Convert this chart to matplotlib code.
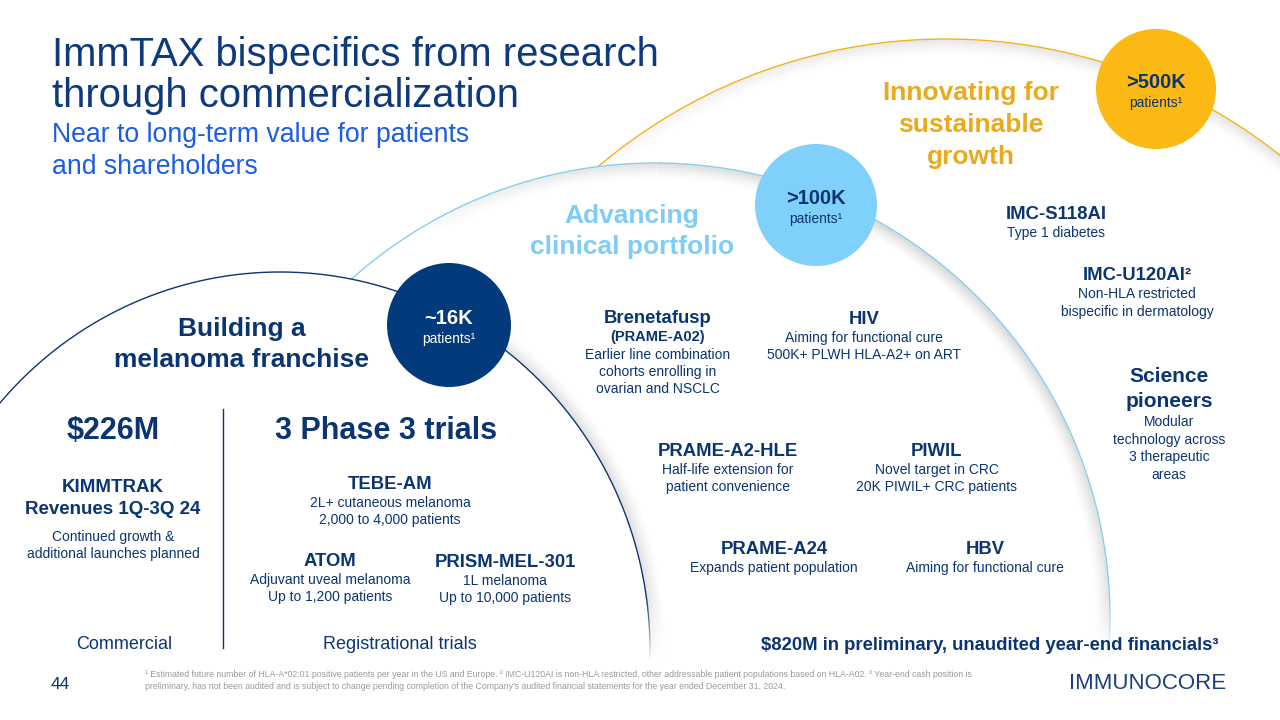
import numpy as np
import matplotlib.pyplot as plt
from matplotlib.patches import Ellipse, Circle
from matplotlib.collections import LineCollection

plt.rcParams['font.family'] = ['Liberation Sans', 'DejaVu Sans']

# ---- slide text / values ----
title_lines = ['ImmTAX bispecifics from research', 'through commercialization']
subtitle_lines = ['Near to long-term value for patients', 'and shareholders']
stage_names = [['Building a', 'melanoma franchise'],
               ['Advancing', 'clinical portfolio'],
               ['Innovating for', 'sustainable', 'growth']]
patient_counts = ['~16K', '>100K', '>500K']

revenue = '$226M'
revenue_lines = ['KIMMTRAK', 'Revenues 1Q-3Q 24']
revenue_note = ['Continued growth &', 'additional launches planned']
trials_head = '3 Phase 3 trials'
trial_names = ['TEBE-AM', 'ATOM', 'PRISM-MEL-301']
trial_notes = [['2L+ cutaneous melanoma', '2,000 to 4,000 patients'],
               ['Adjuvant uveal melanoma', 'Up to 1,200 patients'],
               ['1L melanoma', 'Up to 10,000 patients']]
bottom_labels = ['Commercial', 'Registrational trials']

clinical_names = ['Brenetafusp', 'HIV', 'PRAME-A2-HLE', 'PIWIL', 'PRAME-A24', 'HBV']
clinical_notes = [['Earlier line combination', 'cohorts enrolling in', 'ovarian and NSCLC'],
                  ['Aiming for functional cure', '500K+ PLWH HLA-A2+ on ART'],
                  ['Half-life extension for', 'patient convenience'],
                  ['Novel target in CRC', '20K PIWIL+ CRC patients'],
                  ['Expands patient population'],
                  ['Aiming for functional cure']]
cash_line = '$820M in preliminary, unaudited year-end financials³'

research_names = ['IMC-S118AI', 'IMC-U120AI²']
research_notes = [['Type 1 diabetes'], ['Non-HLA restricted', 'bispecific in dermatology']]
science_head = ['Science', 'pioneers']
science_note = ['Modular', 'technology across', '3 therapeutic', 'areas']

footnote = ['¹ Estimated future number of HLA-A*02:01 positive patients per year in the US and Europe. '
            '² IMC-U120AI is non-HLA restricted, other addressable patient populations based on HLA-A02. '
            '³ Year-end cash position is',
            'preliminary, has not been audited and is subject to change pending completion of the '
            'Company\'s audited financial statements for the year ended December 31, 2024.']
page_no = '44'
logo = 'IMMUNOCORE'

# ---- colours ----
NAVY = '#0b3572'
TITLE = '#0d3a7c'
BLUE = '#1c5ce6'
LIGHT = '#7fcdf6'
LIGHT_FILL = '#80d0fc'
GOLD = '#f2b21f'
GOLD_TXT = '#e9aa1c'
GOLD_FILL = '#fcb913'
CIRCLE_NAVY = '#023a7c'

W, H = 1280, 720
fig = plt.figure(figsize=(12.8, 7.2), dpi=100)
ax = fig.add_axes([0, 0, 1, 1])


def txt(x, yc, s, size, color=NAVY, bold=False, ha='center', z=20, **kw):
    # yc is the visual middle of capital letters, in pixels
    base = yc + 0.358 * size * 100 / 72
    ax.text(x, base, s, fontsize=size, color=color, ha=ha, va='baseline',
            fontweight='bold' if bold else 'normal', zorder=z, **kw)


def curve(cx, cy, a, b, t0, t1, n=500):
    t = np.radians(np.linspace(t0, t1, n))
    return cx + a * np.cos(t), cy - b * np.sin(t), t


def shadow(cx, cy, a, b, t0, t1, direction, z, depth=16, peak=0.09):
    tt = np.linspace(0, 1, 400)
    win = np.sin(np.pi * tt) ** 0.6
    for k in range(1, depth + 1):
        d = k * direction
        x, y, _ = curve(cx, cy, a + d, b + d, t0, t1, 400)
        pts = np.column_stack([x, y])
        segs = np.stack([pts[:-1], pts[1:]], axis=1)
        col = np.zeros((len(segs), 4))
        col[:, :3] = 0.25
        col[:, 3] = peak * (1 - k / (depth + 1)) ** 1.6 * win[:-1]
        ax.add_collection(LineCollection(segs, colors=col, linewidths=1.2, zorder=z))


# arcs: (centre x, centre y, half width, half height)
arcs = [(280, 650, 370, 378, NAVY, CIRCLE_NAVY),
        (655, 618, 455, 455, '#86cdf2', LIGHT_FILL),
        (946, 577, 538, 538, GOLD, GOLD_FILL)]
shadow_spec = [(-15, 72, 1, 0.11), (-20, 120, -1, 0.14), (5, 130, -1, 0.09)]

for i, ((cx, cy, a, b, lc, _), (t0, t1, dr, pk)) in enumerate(zip(arcs[::-1], shadow_spec[::-1])):
    z = 2 + i * 2
    ax.add_patch(Ellipse((cx, cy), 2 * a, 2 * b, facecolor='white', edgecolor='none', zorder=z))
    shadow(cx, cy, a, b, t0, t1, dr, z + 0.3, peak=pk)
    x, y, _ = curve(cx, cy, a, b, -30, 200)
    ax.plot(x, y, color=lc, lw=1.0, zorder=z + 0.6)

# fade of the arcs toward the bottom of the slide
grad = np.ones((120, 2, 4))
grad[:, :, 3] = np.linspace(0, 1, 120)[:, None]
ax.imshow(grad, extent=(0, W, 662, 598), aspect='auto', zorder=9, interpolation='bilinear')
ax.add_patch(plt.Rectangle((0, 661), W, 60, facecolor='white', edgecolor='none', zorder=9))

# patient circles
circles = [(449, 325, 62, CIRCLE_NAVY, 'white'), (816, 205, 61, LIGHT_FILL, NAVY),
           (1156, 89, 60, GOLD_FILL, NAVY)]
for (x, y, r, fc, tc), lab in zip(circles, patient_counts):
    ax.add_patch(Circle((x, y), r, facecolor=fc, edgecolor='none', zorder=12))
    txt(x, y - 8, lab, 14.5, tc, bold=True)
    txt(x, y + 13, 'patients¹', 10, tc)

# title block
txt(52, 52, title_lines[0], 28.8, TITLE, ha='left')
txt(52, 93, title_lines[1], 28.8, TITLE, ha='left')
txt(52, 132, subtitle_lines[0], 19.2, BLUE, ha='left')
txt(52, 164, subtitle_lines[1], 19.2, BLUE, ha='left')

# stage headings
for s, y in zip(stage_names[0], [327, 358]):
    txt(242, y, s, 19, NAVY, bold=True)
for s, y in zip(stage_names[1], [214, 245]):
    txt(632, y, s, 19, LIGHT, bold=True)
for s, y in zip(stage_names[2], [91, 123, 155]):
    txt(971, y, s, 19, GOLD_TXT, bold=True)

# commercial
txt(113, 428, revenue, 22, NAVY, bold=True)
txt(113, 485, revenue_lines[0], 13.5, NAVY, bold=True)
txt(113, 507, revenue_lines[1], 13.5, NAVY, bold=True)
txt(113, 536, revenue_note[0], 10, NAVY)
txt(113, 553, revenue_note[1], 10, NAVY)
ax.plot([223, 223], [409, 648], color=NAVY, lw=1.0, zorder=15)

# registrational trials
txt(386, 428, trials_head, 22, NAVY, bold=True)
trial_pos = [(390, 482), (330, 559), (505, 560)]
for (x, y), name, notes in zip(trial_pos, trial_names, trial_notes):
    txt(x, y, name, 13.3, NAVY, bold=True)
    for j, s in enumerate(notes):
        txt(x, y + 20 + 17 * j, s, 10, NAVY)

txt(124, 643, bottom_labels[0], 13, NAVY)
txt(400, 643, bottom_labels[1], 13, NAVY)

# clinical portfolio
clin_pos = [(658, 316), (864, 317), (728, 449), (937, 449), (774, 547), (985, 547)]
for k, ((x, y), name, notes) in enumerate(zip(clin_pos, clinical_names, clinical_notes)):
    txt(x, y, name, 13.3, NAVY, bold=True)
    off = 20
    if k == 0:
        txt(x, y + 20, '(PRAME-A02)', 10.5, NAVY, bold=True)
        off = 38
    for j, s in enumerate(notes):
        txt(x, y + off + 17 * j, s, 10, NAVY)

txt(990, 643, cash_line, 13.3, NAVY, bold=True)

# research
res_pos = [(1056, 212), (1137, 273)]
for (x, y), name, notes in zip(res_pos, research_names, research_notes):
    txt(x, y, name, 13.3, NAVY, bold=True)
    for j, s in enumerate(notes):
        txt(x, y + 20 + 18 * j, s, 10, NAVY)
txt(1169, 375, science_head[0], 15, NAVY, bold=True)
txt(1169, 400, science_head[1], 15, NAVY, bold=True)
for j, s in enumerate(science_note):
    txt(1169, 421 + 17.7 * j, s, 10, NAVY)

# footer
txt(60, 683, page_no, 12.5, NAVY)
txt(145, 674, footnote[0], 6.35, '#9a9a9a', ha='left')
txt(145, 686, footnote[1], 6.35, '#9a9a9a', ha='left')
txt(1148, 681, logo, 16, '#1a3f7c')

ax.set_xlim(0, W)
ax.set_ylim(H, 0)
ax.axis('off')
fig.savefig('out.png', dpi=100, facecolor='white')
